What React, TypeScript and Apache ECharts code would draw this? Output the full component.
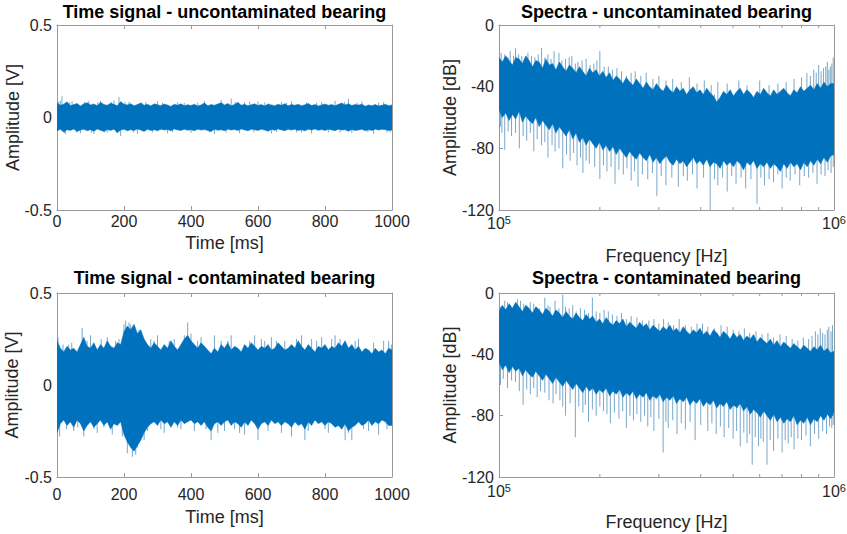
import React, { useEffect, useRef } from 'react';
import * as echarts from 'echarts';

// ---------- data ----------
const TITLES = [
  'Time signal - uncontaminated bearing',
  'Spectra - uncontaminated bearing',
  'Time signal - contaminated bearing',
  'Spectra - contaminated bearing',
];

// time samples (ms)
const TIME_MS = [0, 10, 20, 30, 40, 50, 60, 70, 80, 90, 100, 110, 120, 130, 140, 150, 160, 170, 180, 190, 200, 210, 220, 230, 240, 250, 260, 270, 280, 290, 300, 310, 320, 330, 340, 350, 360, 370, 380, 390, 400, 410, 420, 430, 440, 450, 460, 470, 480, 490, 500, 510, 520, 530, 540, 550, 560, 570, 580, 590, 600, 610, 620, 630, 640, 650, 660, 670, 680, 690, 700, 710, 720, 730, 740, 750, 760, 770, 780, 790, 800, 810, 820, 830, 840, 850, 860, 870, 880, 890, 900, 910, 920, 930, 940, 950, 960, 970, 980, 990, 1000];

// uncontaminated time signal envelope (V)
const TL_UPPER = [0.078, 0.066, 0.072, 0.085, 0.064, 0.07, 0.076, 0.062, 0.074, 0.08,
  0.068, 0.073, 0.064, 0.082, 0.07, 0.066, 0.077, 0.071, 0.063, 0.086,
  0.072, 0.068, 0.075, 0.064, 0.07, 0.079, 0.066, 0.072, 0.062, 0.074,
  0.069, 0.064, 0.073, 0.067, 0.06, 0.071, 0.066, 0.074, 0.063, 0.069,
  0.065, 0.072, 0.062, 0.068, 0.078, 0.064, 0.07, 0.066, 0.073, 0.08,
  0.068, 0.076, 0.064, 0.07, 0.082, 0.066, 0.072, 0.063, 0.069, 0.074,
  0.065, 0.07, 0.062, 0.073, 0.068, 0.064, 0.071, 0.066, 0.075, 0.063,
  0.07, 0.066, 0.072, 0.064, 0.069, 0.076, 0.065, 0.07, 0.062, 0.068,
  0.073, 0.066, 0.07, 0.064, 0.071, 0.078, 0.068, 0.074, 0.065, 0.07,
  0.067, 0.072, 0.061, 0.068, 0.064, 0.07, 0.062, 0.066, 0.071, 0.064, 0.068];
const TL_LOWER = [-0.072, -0.064, -0.078, -0.066, -0.07, -0.062, -0.075, -0.068, -0.064, -0.071,
  -0.066, -0.074, -0.062, -0.069, -0.076, -0.065, -0.07, -0.063, -0.082, -0.068,
  -0.064, -0.072, -0.066, -0.07, -0.062, -0.068, -0.075, -0.064, -0.07, -0.066,
  -0.072, -0.063, -0.068, -0.065, -0.071, -0.062, -0.067, -0.07, -0.064, -0.069,
  -0.066, -0.072, -0.063, -0.068, -0.065, -0.07, -0.076, -0.064, -0.069, -0.066,
  -0.071, -0.063, -0.068, -0.065, -0.07, -0.062, -0.067, -0.072, -0.064, -0.066,
  -0.07, -0.063, -0.068, -0.074, -0.065, -0.069, -0.062, -0.067, -0.071, -0.064,
  -0.068, -0.063, -0.07, -0.066, -0.072, -0.064, -0.068, -0.062, -0.069, -0.065,
  -0.07, -0.064, -0.067, -0.071, -0.063, -0.068, -0.066, -0.074, -0.065, -0.07,
  -0.068, -0.064, -0.071, -0.066, -0.07, -0.063, -0.068, -0.064, -0.066, -0.07, -0.068];
const TL_SPIKES = [[5, 0.086], [10, 0.09], [15, 0.115], [22, -0.084], [25, -0.09], [38, 0.083], [45, 0.088], [58, -0.08], [70, -0.085], [82, 0.084], [95, 0.09], [103, -0.082], [110, -0.088], [122, 0.083], [130, 0.09], [142, -0.079], [150, -0.082], [162, 0.085], [170, 0.092], [178, -0.083], [185, 0.11], [190, -0.1], [203, 0.083], [215, 0.086], [228, -0.08], [240, -0.088], [252, 0.081], [265, 0.084], [285, -0.08], [300, 0.088], [315, 0.08], [330, -0.085], [345, -0.079], [360, 0.082], [380, 0.079], [400, -0.083], [420, 0.081], [440, 0.09], [455, -0.08], [470, -0.09], [490, 0.094], [505, -0.081], [520, 0.102], [532, 0.084], [545, -0.085], [560, 0.082], [575, 0.086], [588, -0.08], [600, 0.088], [620, 0.081], [640, -0.086], [655, -0.079], [670, 0.084], [685, 0.08], [700, 0.088], [715, -0.08], [730, -0.082], [745, 0.082], [760, -0.086], [775, 0.08], [790, 0.085], [810, -0.081], [830, 0.09], [845, -0.082], [858, 0.083], [870, 0.1], [880, -0.084], [895, 0.08], [910, 0.086], [928, -0.079], [945, -0.088], [960, 0.08], [975, 0.084], [985, -0.081], [995, -0.08]];

// contaminated time signal envelope (V)
const BL_UPPER = [0.24, 0.2, 0.18, 0.21, 0.19, 0.2, 0.18, 0.22, 0.26, 0.21,
  0.2, 0.23, 0.19, 0.22, 0.2, 0.24, 0.21, 0.2, 0.23, 0.22,
  0.29, 0.32, 0.3, 0.33, 0.28, 0.3, 0.25, 0.22, 0.2, 0.23,
  0.21, 0.19, 0.22, 0.2, 0.24, 0.21, 0.19, 0.22, 0.25, 0.27,
  0.24, 0.22, 0.2, 0.23, 0.21, 0.19, 0.17, 0.2, 0.18, 0.22,
  0.2, 0.23, 0.19, 0.21, 0.2, 0.18, 0.22, 0.2, 0.23, 0.21,
  0.19, 0.21, 0.2, 0.22, 0.19, 0.2, 0.23, 0.21, 0.19, 0.2,
  0.22, 0.2, 0.24, 0.21, 0.19, 0.22, 0.2, 0.18, 0.21, 0.2,
  0.22, 0.19, 0.21, 0.2, 0.23, 0.21, 0.24, 0.2, 0.22, 0.19,
  0.21, 0.18, 0.2, 0.19, 0.17, 0.2, 0.18, 0.19, 0.17, 0.2, 0.19];
const BL_LOWER = [-0.26, -0.21, -0.19, -0.22, -0.2, -0.23, -0.19, -0.21, -0.25, -0.22,
  -0.2, -0.23, -0.21, -0.19, -0.22, -0.2, -0.24, -0.21, -0.22, -0.2,
  -0.27, -0.31, -0.34, -0.36, -0.33, -0.3, -0.26, -0.23, -0.21, -0.2,
  -0.22, -0.19, -0.21, -0.2, -0.23, -0.2, -0.22, -0.19, -0.21, -0.2,
  -0.19, -0.21, -0.2, -0.22, -0.2, -0.23, -0.25, -0.21, -0.2, -0.22,
  -0.2, -0.19, -0.22, -0.2, -0.21, -0.23, -0.2, -0.22, -0.19, -0.21,
  -0.24, -0.21, -0.2, -0.22, -0.19, -0.21, -0.2, -0.22, -0.2, -0.21,
  -0.23, -0.2, -0.22, -0.21, -0.24, -0.2, -0.22, -0.19, -0.21, -0.2,
  -0.22, -0.2, -0.21, -0.23, -0.22, -0.24, -0.21, -0.25, -0.23, -0.22,
  -0.2, -0.22, -0.21, -0.19, -0.22, -0.2, -0.21, -0.19, -0.2, -0.22, -0.22];
const BL_SPIKES = [[3, 0.26], [8, -0.28], [18, 0.22], [28, -0.24], [35, 0.22], [44, 0.23], [50, -0.25], [62, -0.23], [75, 0.31], [80, -0.28], [90, 0.24], [100, 0.27], [110, -0.24], [120, -0.26], [132, 0.25], [140, -0.23], [150, 0.26], [165, -0.27], [175, 0.24], [185, 0.25], [195, -0.28], [200, 0.33], [205, 0.35], [210, -0.37], [215, 0.34], [220, 0.33], [225, -0.39], [230, 0.32], [235, -0.38], [240, -0.34], [245, 0.3], [255, 0.26], [260, -0.3], [270, -0.25], [280, 0.25], [290, 0.24], [300, 0.27], [310, -0.24], [320, -0.26], [335, 0.24], [350, 0.25], [360, -0.23], [370, -0.24], [380, 0.27], [390, 0.34], [400, 0.28], [410, -0.25], [420, 0.24], [430, 0.26], [445, -0.24], [460, -0.3], [470, 0.27], [480, -0.26], [490, 0.24], [500, -0.25], [510, 0.24], [520, 0.27], [530, -0.24], [545, -0.26], [560, -0.27], [575, 0.24], [590, 0.27], [600, -0.3], [610, 0.25], [620, 0.24], [630, -0.25], [640, 0.26], [655, 0.24], [670, -0.26], [680, 0.24], [700, -0.28], [715, 0.25], [730, 0.27], [740, -0.3], [750, -0.25], [760, 0.25], [775, 0.24], [790, 0.26], [800, -0.24], [810, -0.26], [820, 0.25], [830, 0.27], [845, 0.25], [860, -0.3], [870, -0.26], [880, -0.3], [890, 0.24], [900, 0.25], [915, -0.24], [930, -0.25], [945, 0.23], [960, -0.27], [975, 0.24], [985, -0.24], [990, 0.24], [998, 0.22]];

// frequency samples (Hz)
const FREQ_HZ = [100000, 102300, 104700, 107200, 109600, 112200, 114800, 117500, 120200, 123000,
  125900, 128800, 131800, 134900, 138000, 141300, 144500, 147900, 151400, 154900,
  158500, 162200, 166000, 169800, 173800, 177800, 182000, 186200, 190500, 195000,
  199500, 204200, 208900, 213800, 218800, 223900, 229100, 234400, 239900, 245500,
  251200, 257000, 263000, 269200, 275400, 281800, 288400, 295100, 302000, 309000,
  316200, 323600, 331100, 338800, 346700, 354800, 363100, 371500, 380200, 389000,
  398100, 407400, 416900, 426600, 436500, 446700, 457100, 467700, 478600, 489800,
  501200, 512900, 524800, 537000, 549500, 562300, 575400, 588800, 602600, 616600,
  631000, 645700, 660700, 676100, 691800, 707900, 724400, 741300, 758600, 776200,
  794300, 812800, 831800, 851100, 871000, 891300, 912000, 933300, 955000, 977200, 1000000];

// uncontaminated spectrum envelope (dB)
const TR_UPPER = [-21, -24, -20, -23, -26, -21, -22, -25, -20, -23,
  -27, -23, -24, -28, -22, -26, -25, -29, -24, -27,
  -30, -26, -28, -31, -27, -30, -33, -28, -31, -29,
  -33, -30, -34, -31, -36, -33, -35, -38, -34, -37,
  -39, -35, -38, -41, -37, -40, -42, -38, -41, -43,
  -39, -42, -44, -40, -43, -41, -45, -42, -40, -44,
  -42, -45, -41, -44, -46, -50, -47, -43, -45, -42,
  -46, -43, -41, -45, -42, -44, -47, -43, -45, -41,
  -44, -46, -42, -45, -43, -41, -44, -46, -42, -44,
  -40, -43, -41, -39, -42, -38, -41, -37, -40, -38, -38];
const TR_LOWER = [-55, -60, -57, -62, -58, -61, -56, -63, -59, -62,
  -64, -60, -66, -62, -65, -68, -64, -70, -66, -69,
  -72, -68, -74, -70, -76, -73, -78, -74, -77, -80,
  -76, -81, -78, -82, -79, -84, -80, -83, -86, -82,
  -85, -87, -83, -86, -88, -84, -89, -86, -90, -87,
  -85, -89, -91, -87, -90, -88, -92, -89, -86, -90,
  -88, -91, -87, -92, -89, -90, -93, -88, -91, -89,
  -92, -88, -90, -94, -89, -91, -88, -93, -90, -92,
  -89, -93, -90, -92, -95, -90, -93, -89, -92, -90,
  -94, -89, -92, -88, -91, -87, -90, -86, -89, -85, -84];
const TR_SPIKES = [[101500, -18], [104000, -19], [106500, -21], [108000, -17], [110500, -20], [112000, -15], [114500, -19], [117000, -20], [119500, -22], [122000, -18], [125000, -20], [128000, -21], [131000, -19], [134000, -15], [137000, -21], [140000, -19], [143000, -22], [146000, -17], [151000, -18], [154000, -23], [158000, -22], [162000, -21], [165000, -20], [169000, -25], [172000, -24], [177000, -23], [182000, -22], [187000, -26], [192000, -25], [196000, -23], [200000, -17], [206000, -27], [212000, -27], [218000, -29], [225000, -28], [232000, -30], [240000, -33], [248000, -31], [255000, -30], [265000, -33], [275000, -31], [288000, -35], [300000, -33], [315000, -36], [330000, -35], [350000, -37], [370000, -34], [390000, -38], [410000, -36], [430000, -39], [450000, -37], [480000, -38], [520000, -36], [550000, -39], [600000, -36], [640000, -39], [680000, -38], [720000, -37], [760000, -35], [800000, -34], [830000, -31], [850000, -33], [870000, -29], [885000, -31], [900000, -26], [915000, -30], [930000, -28], [945000, -27], [955000, -24], [965000, -29], [975000, -27], [985000, -25], [995000, -21],
  [101000, -66], [102000, -70], [104000, -81], [106500, -69], [109000, -72], [112000, -70], [115000, -80], [118000, -72], [121000, -75], [124000, -70], [127000, -82], [130000, -74], [134000, -78], [137000, -76], [140000, -86], [144000, -78], [147000, -82], [151000, -80], [155000, -93], [159000, -84], [163000, -88], [167000, -83], [171000, -91], [175000, -86], [178000, -96], [182000, -88], [186000, -90], [193000, -92], [200000, -100], [205000, -91], [210000, -95], [216000, -92], [222000, -103], [228000, -94], [235000, -97], [241000, -93], [248000, -101], [254000, -95], [260000, -105], [268000, -97], [278000, -100], [287000, -96], [296000, -111], [305000, -98], [315000, -104], [328000, -99], [343000, -105], [355000, -98], [365000, -101], [378000, -97], [390000, -106], [408000, -99], [427000, -120], [440000, -100], [450000, -104], [465000, -99], [480000, -108], [495000, -98], [510000, -103], [528000, -99], [545000, -106], [565000, -100], [589000, -116], [605000, -99], [620000, -104], [640000, -100], [660000, -102], [680000, -97], [700000, -106], [720000, -99], [740000, -101], [765000, -97], [790000, -104], [815000, -98], [840000, -99], [865000, -96], [890000, -103], [915000, -97], [940000, -98], [960000, -94], [980000, -96], [995000, -92]];

// contaminated spectrum envelope (dB)
const BR_UPPER = [-12, -8, -11, -7, -10, -6, -9, -12, -8, -10,
  -13, -9, -11, -14, -10, -12, -15, -11, -13, -16,
  -12, -15, -17, -13, -16, -18, -14, -17, -15, -19,
  -17, -20, -16, -19, -21, -18, -20, -17, -22, -19,
  -21, -23, -19, -22, -20, -24, -21, -23, -25, -22,
  -24, -21, -25, -23, -26, -22, -25, -27, -24, -26,
  -23, -27, -25, -28, -24, -26, -29, -25, -27, -30,
  -26, -29, -27, -31, -28, -30, -27, -32, -29, -31,
  -33, -30, -34, -31, -35, -32, -34, -36, -33, -35,
  -37, -34, -36, -38, -35, -37, -34, -38, -36, -39, -38];
const BR_LOWER = [-45, -50, -47, -52, -48, -51, -49, -54, -50, -53,
  -55, -51, -54, -57, -53, -56, -59, -55, -58, -61,
  -57, -60, -63, -59, -62, -65, -61, -64, -62, -66,
  -63, -65, -62, -67, -64, -66, -63, -68, -65, -67,
  -64, -69, -66, -68, -65, -70, -67, -69, -66, -71,
  -68, -70, -67, -72, -69, -71, -68, -73, -70, -72,
  -69, -74, -71, -73, -70, -75, -72, -74, -71, -76,
  -73, -75, -72, -77, -74, -79, -76, -78, -81, -77,
  -80, -83, -79, -84, -81, -85, -82, -84, -80, -86,
  -83, -85, -81, -86, -82, -84, -80, -83, -79, -82, -78];
const BR_SPIKES = [[101000, -9], [102000, -9], [104000, -5], [106000, -6], [108000, -8], [111000, -8], [113500, -4], [116000, -5], [118500, -7], [121000, -9], [124000, -6], [127000, -7], [129500, -9], [132000, -10], [137000, -3], [140000, -8], [142000, -9], [147000, -5], [151000, -10], [155000, -1], [158000, -9], [162000, -10], [166000, -8], [170000, -12], [175000, -10], [180000, -11], [185000, -13], [190000, -3], [195000, -12], [200000, -13], [206000, -11], [212000, -12], [218000, -14], [225000, -15], [232000, -13], [240000, -17], [248000, -15], [258000, -16], [268000, -18], [280000, -18], [290000, -17], [300000, -20], [310000, -17], [320000, -19], [332000, -21], [345000, -17], [360000, -21], [375000, -22], [390000, -20], [405000, -20], [420000, -22], [440000, -23], [460000, -21], [480000, -22], [500000, -24], [520000, -25], [540000, -23], [560000, -26], [585000, -25], [610000, -27], [635000, -26], [660000, -29], [690000, -27], [720000, -28], [750000, -30], [780000, -31], [810000, -29], [840000, -30], [860000, -28], [880000, -25], [895000, -27], [910000, -23], [925000, -26], [940000, -27], [955000, -24], [965000, -22], [980000, -25], [990000, -21],
  [101000, -60], [103000, -56], [106000, -62], [109000, -57], [112000, -58], [115000, -64], [118000, -73], [121000, -63], [124000, -66], [127000, -62], [130000, -68], [133000, -64], [137000, -65], [141000, -70], [145000, -72], [148000, -66], [152000, -70], [155000, -74], [158000, -80], [163000, -72], [169000, -94], [173000, -74], [178000, -78], [181000, -73], [185000, -84], [190000, -76], [195000, -80], [200000, -74], [205000, -77], [210000, -79], [215000, -85], [221000, -78], [228000, -82], [234000, -77], [240000, -88], [246000, -80], [252000, -83], [258000, -79], [265000, -84], [272000, -80], [278000, -87], [284000, -81], [290000, -90], [300000, -82], [309000, -104], [315000, -84], [320000, -88], [330000, -83], [340000, -92], [350000, -85], [360000, -89], [372000, -84], [385000, -96], [400000, -86], [420000, -90], [432000, -85], [445000, -92], [458000, -87], [470000, -94], [485000, -88], [500000, -95], [512000, -90], [525000, -100], [538000, -91], [550000, -98], [560000, -92], [570000, -112], [582000, -94], [595000, -100], [605000, -95], [615000, -97], [631000, -112], [645000, -96], [660000, -103], [680000, -95], [700000, -104], [715000, -96], [730000, -98], [745000, -94], [760000, -102], [780000, -95], [800000, -96], [825000, -93], [850000, -100], [875000, -92], [900000, -95], [925000, -90], [950000, -92], [970000, -87], [985000, -88], [995000, -86]];

// log-axis minor tick positions (Hz)
const MINOR_FREQS = [200000, 300000, 400000, 500000, 600000, 700000, 800000, 900000];

// ---------- styling ----------
const BLUE = '#0072BD';
const SPIKE = '#5592bb';
const AXIS = '#9a9a9a';
const TEXT = '#262626';
const FONT = '"Liberation Sans", Arial, Helvetica, sans-serif';

type Panel = {
  kind: 'time' | 'spec';
  xs: number[]; upper: number[]; lower: number[]; spikes: number[][]; anchor: number;
  grid: { left: number; top: number; width: number; height: number };
  titleY: number; xLabelMargin: number; xNameGap: number; yNameGap: number;
  xName: string; yName: string;
};

const PANELS: Panel[] = [
  { kind: 'time', xs: TIME_MS, upper: TL_UPPER, lower: TL_LOWER, spikes: TL_SPIKES, anchor: 0,
    grid: { left: 57, top: 25, width: 335, height: 185 }, titleY: 12, xLabelMargin: 3, xNameGap: 24, yNameGap: 35,
    xName: 'Time [ms]', yName: 'Amplitude [V]' },
  { kind: 'spec', xs: FREQ_HZ, upper: TR_UPPER, lower: TR_LOWER, spikes: TR_SPIKES, anchor: -45,
    grid: { left: 499, top: 25, width: 335, height: 185 }, titleY: 12, xLabelMargin: 4, xNameGap: 37, yNameGap: 40,
    xName: 'Frequency [Hz]', yName: 'Amplitude [dB]' },
  { kind: 'time', xs: TIME_MS, upper: BL_UPPER, lower: BL_LOWER, spikes: BL_SPIKES, anchor: 0,
    grid: { left: 57, top: 293, width: 335, height: 184 }, titleY: 278, xLabelMargin: 9, xNameGap: 31, yNameGap: 36,
    xName: 'Time [ms]', yName: 'Amplitude [V]' },
  { kind: 'spec', xs: FREQ_HZ, upper: BR_UPPER, lower: BR_LOWER, spikes: BR_SPIKES, anchor: -42,
    grid: { left: 499, top: 293, width: 335, height: 184 }, titleY: 278, xLabelMargin: 5, xNameGap: 36, yNameGap: 40,
    xName: 'Frequency [Hz]', yName: 'Amplitude [dB]' },
];

function buildOption() {
  const grid: any[] = [];
  const xAxis: any[] = [];
  const yAxis: any[] = [];
  const series: any[] = [];
  const graphic: any[] = [];

  const lineStyle = { color: AXIS, width: 1 };
  const tick = { show: true, inside: true, length: 4, lineStyle };
  const nameStyle = { fontSize: 18, color: TEXT, fontFamily: FONT };

  PANELS.forEach((p, g) => {
    grid.push({ ...p.grid, containLabel: false, outerBoundsMode: 'none' });
    const isTime = p.kind === 'time';
    const xBase = isTime
      ? { type: 'value', min: 0, max: 1000, interval: 200 }
      : { type: 'log', logBase: 10, min: 100000, max: 1000000 };
    const yBase = isTime
      ? { type: 'value', min: -0.5, max: 0.5, interval: 0.5 }
      : { type: 'value', min: -120, max: 0, interval: 40 };

    const xLabel: any = isTime
      ? { fontSize: 16, color: TEXT, fontFamily: FONT, margin: p.xLabelMargin, formatter: (v: number) => String(v) }
      : {
          fontSize: 16, color: TEXT, fontFamily: FONT, margin: p.xLabelMargin,
          formatter: (v: number) => '10{s|' + Math.round(Math.log10(v)) + '}',
          rich: { s: { fontSize: 11, color: TEXT, fontFamily: FONT, padding: [0, 0, 8, 0] } },
        };

    xAxis.push({
      ...xBase, gridIndex: g, position: 'bottom',
      name: p.xName, nameLocation: 'middle', nameGap: p.xNameGap, nameTextStyle: nameStyle, nameMoveOverlap: false,
      axisLine: { show: true, onZero: false, lineStyle }, axisTick: tick, axisLabel: xLabel,
      splitLine: { show: false }, minorTick: { show: false }, minorSplitLine: { show: false },
    });
    xAxis.push({
      ...xBase, gridIndex: g, position: 'top',
      axisLine: { show: true, onZero: false, lineStyle }, axisTick: tick, axisLabel: { show: false },
      splitLine: { show: false },
    });
    yAxis.push({
      ...yBase, gridIndex: g, position: 'left',
      name: p.yName, nameLocation: 'middle', nameGap: p.yNameGap, nameTextStyle: nameStyle, nameMoveOverlap: false,
      axisLine: { show: true, onZero: false, lineStyle }, axisTick: tick,
      axisLabel: { fontSize: 16, color: TEXT, fontFamily: FONT, margin: 5, formatter: (v: number) => String(v) },
      splitLine: { show: false },
    });
    yAxis.push({
      ...yBase, gridIndex: g, position: 'right',
      axisLine: { show: true, onZero: false, lineStyle }, axisTick: tick, axisLabel: { show: false },
      splitLine: { show: false },
    });

    const xi = 2 * g;
    const yi = 2 * g;

    // thin spikes (below the dense band)
    series.push({
      type: 'custom', xAxisIndex: xi, yAxisIndex: yi, silent: true, clip: true, z: 2,
      data: p.spikes,
      encode: { x: 0, y: 1 },
      renderItem: (_params: any, api: any) => {
        const tip = api.coord([api.value(0), api.value(1)]);
        const base = api.coord([api.value(0), p.anchor]);
        return {
          type: 'line',
          shape: { x1: base[0], y1: base[1], x2: tip[0], y2: tip[1] },
          style: { stroke: SPIKE, lineWidth: 0.8 },
        };
      },
    });

    // dense band (filled envelope)
    series.push({
      type: 'custom', xAxisIndex: xi, yAxisIndex: yi, silent: true, clip: true, z: 3,
      data: p.xs.map((x, i) => [x, p.lower[i], p.upper[i]]),
      encode: { x: 0, y: [1, 2] },
      renderItem: (params: any, api: any) => {
        if (params.dataIndexInside !== 0) return null;
        const n = p.xs.length;
        const top: number[][] = [];
        const bot: number[][] = [];
        for (let i = 0; i < n; i++) {
          top.push(api.coord([api.value(0, i), api.value(2, i)]));
          bot.push(api.coord([api.value(0, i), api.value(1, i)]));
        }
        return {
          type: 'polygon',
          shape: { points: top.concat(bot.reverse()) },
          style: { fill: BLUE, stroke: BLUE, lineWidth: 0.5 },
        };
      },
    });

    // minor ticks for the log axes
    if (!isTime) {
      series.push({
        type: 'custom', xAxisIndex: xi, yAxisIndex: yi, silent: true, clip: false, z: 4,
        data: MINOR_FREQS.map((f) => [f, -120]),
        encode: { x: 0, y: 1 },
        renderItem: (_params: any, api: any) => {
          const b = api.coord([api.value(0), -120]);
          const t = api.coord([api.value(0), 0]);
          return {
            type: 'group',
            children: [
              { type: 'line', shape: { x1: b[0], y1: b[1], x2: b[0], y2: b[1] - 3 }, style: { stroke: AXIS, lineWidth: 1 } },
              { type: 'line', shape: { x1: t[0], y1: t[1], x2: t[0], y2: t[1] + 3 }, style: { stroke: AXIS, lineWidth: 1 } },
            ],
          };
        },
      });
    }

    graphic.push({
      type: 'text',
      x: p.grid.left + p.grid.width / 2,
      y: p.titleY,
      style: {
        text: TITLES[g], fontSize: 18, fontWeight: 'bold', fontFamily: FONT, fill: '#000',
        align: 'center', verticalAlign: 'middle',
      },
    });
  });

  return { animation: false, backgroundColor: '#fff', grid, xAxis, yAxis, series, graphic };
}

export default function App() {
  const ref = useRef<HTMLDivElement>(null);
  useEffect(() => {
    if (!ref.current) return;
    const chart = echarts.init(ref.current, undefined, { renderer: 'svg' });
    chart.setOption(buildOption() as any);
    return () => chart.dispose();
  }, []);
  return <div ref={ref} style={{ position: 'absolute', left: 0, top: 0, width: 847, height: 534 }} />;
}
